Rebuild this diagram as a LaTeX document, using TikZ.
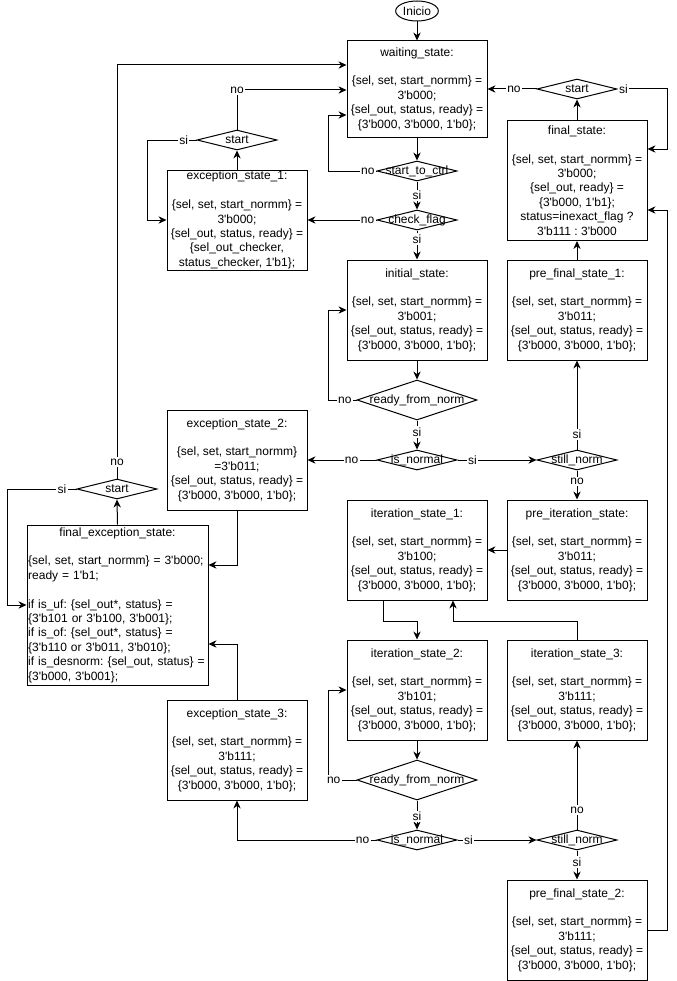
\documentclass[tikz,border=0pt]{standalone}
\usepackage{fontspec}
\setmainfont{Liberation Sans}[Ligatures=TeXOff]
\usepackage{tikz}
\usetikzlibrary{positioning,shapes.geometric,arrows.meta}
\frenchspacing

% texto comun de casi todos los estados
\newcommand{\estado}[2]{#1:\\[10.8pt]\{sel, set, start\_normm\} =\\#2;\\\{sel\_out, status, ready\} =\\\{3'b000, 3'b000, 1'b0\};}

\begin{document}
\begin{tikzpicture}[
        x=0.75pt, y=-0.75pt,
        font=\fontsize{9}{10.8}\selectfont,
        % Estilo para los estados (cajas)
        statebox/.style={
            rectangle,
            draw=black,
            line width=0.75pt,
            minimum width=105pt,
            minimum height=75pt,
            align=center,
            inner xsep=2pt,
            inner ysep=0pt
        },
        % Estilo para las decisiones (rombos)
        decision/.style={
            diamond,
            draw=black,
            line width=0.75pt,
            minimum width=60pt,
            minimum height=15pt,
            inner sep=0pt
        },
        % Estilo para las flechas
        flow/.style={
            draw=black,
            line width=0.75pt,
            -{Stealth[length=6pt, width=5.5pt]}
        },
        % Etiquetas si / no sobre las flechas
        lab/.style={
            fill=white,
            inner sep=1pt
        }
    ]

        \useasboundingbox (0,0) rectangle (677,981);

        % --- 1. INICIO Y ESTADO DE ESPERA ---
        \node[ellipse, draw=black, line width=0.75pt, minimum width=32pt, minimum height=15pt, inner sep=0pt] (inicio) at (417,11) {Inicio};
        \node[statebox, minimum height=72pt] (waiting) at (417,89) {\estado{waiting\_state}{3'b000}};

        % Decisiones de arranque
        \node[decision, label=center:start\_to\_ctrl] (stc) at (417,171) {};
        \node[decision, label=center:check\_flag] (chk) at (417,220) {};

        % --- 2. COLUMNA CENTRAL ---
        \node[statebox] (init) at (417,310) {\estado{initial\_state}{3'b001}};
        \node[decision, minimum width=90pt, minimum height=30pt, label=center:ready\_from\_norm] (rfn1) at (417,400) {};
        \node[decision, label=center:is\_normal] (isn1) at (417,460) {};

        \node[statebox] (it1) at (417,550) {\estado{iteration\_state\_1}{3'b100}};
        \node[statebox] (it2) at (417,690) {\estado{iteration\_state\_2}{3'b101}};
        \node[decision, minimum width=90pt, minimum height=30pt, label=center:ready\_from\_norm] (rfn2) at (417,780) {};
        \node[decision, label=center:is\_normal] (isn2) at (417,840) {};

        % --- 3. COLUMNA DERECHA ---
        \node[decision, label=center:start] (st3) at (577,89) {};
        \node[statebox, minimum height=90pt] (fin) at (577,180.5) {final\_state:\\[10.8pt]\{sel, set, start\_normm\} =\\3'b000;\\\{sel\_out, ready\} =\\\{3'b000, 1'b1\};\\status=inexact\_flag ?\\3'b111 : 3'b000};
        \node[statebox] (pfs1) at (577,310) {\estado{pre\_final\_state\_1}{3'b011}};
        \node[decision, label=center:still\_norm] (stn1) at (577,460) {};
        \node[statebox] (pis) at (577,550) {\estado{pre\_iteration\_state}{3'b011}};
        \node[statebox] (it3) at (577,690) {\estado{iteration\_state\_3}{3'b111}};
        \node[decision, label=center:still\_norm] (stn2) at (577,840) {};
        \node[statebox] (pfs2) at (577,930) {\estado{pre\_final\_state\_2}{3'b111}};

        % --- 4. COLUMNA DE EXCEPCIONES ---
        \node[decision, label=center:start] (st1) at (237,140) {};
        \node[statebox] (exc1) at (237,220) {exception\_state\_1:\\[10.8pt]\{sel, set, start\_normm\} =\\3'b000;\\\{sel\_out, status, ready\} =\\\{sel\_out\_checker,\\status\_checker, 1'b1\};};
        \node[statebox] (exc2) at (237,460) {exception\_state\_2:\\[10.8pt]\{sel, set, start\_normm\}\\=3'b011;\\\{sel\_out, status, ready\} =\\\{3'b000, 3'b000, 1'b0\};};
        \node[statebox] (exc3) at (237,750) {\estado{exception\_state\_3}{3'b111}};

        \node[decision, label=center:start] (st2) at (117,489) {};
        \node[statebox, minimum width=135.75pt, minimum height=120pt, text width=134pt, align=left, inner xsep=0.5pt] (fes) at (117.5,605) {\makebox[134pt]{final\_exception\_state:}\\[10.8pt]
            \{sel, set, start\_normm\} = 3'b000;\\ready = 1'b1;\\[10.8pt]
            if is\_uf: \{sel\_out*, status\} =\\\{3'b101 or 3'b100, 3'b001\};\\
            if is\_of: \{sel\_out*, status\} =\\\{3'b110 or 3'b011, 3'b010\};\\
            if is\_desnorm: \{sel\_out, status\} =\\\{3'b000, 3'b001\};};

        % --- 5. FLECHAS ---
        \draw[flow] (inicio) -- (waiting);
        \draw[flow] (waiting) -- (stc);
        \draw[flow] (stc.west) -- node[lab, pos=0.18] {no} (328,171) |- (waiting.west |- 0,115);
        \draw[flow] (stc.south) -- node[lab] {si} (chk.north);
        \draw[flow] (chk.west) -- node[lab, pos=0.13] {no} (exc1.east);
        \draw[flow] (chk.south) -- node[lab, pos=0.3] {si} (init.north);

        \draw[flow] (exc1) -- (st1);
        \draw[flow] (st1.west) -- node[lab, pos=0.26] {si} (147,140) |- (exc1.west);
        \draw[flow] (st1.north) |- node[lab, pos=0.5] {no} (waiting.west |- 0,90);

        \draw[flow] (init) -- (rfn1);
        \draw[flow] (rfn1.west) -- node[lab, pos=0.41] {no} (328,400) |- (init.west);
        \draw[flow] (rfn1.south) -- node[lab, pos=0.4] {si} (isn1.north);
        \draw[flow] (isn1.west) -- node[lab, pos=0.36] {no} (exc2.east);
        \draw[flow] (isn1.east) -- node[lab, pos=0.19] {si} (stn1.west);
        \draw[flow] (stn1.north) -- node[lab, pos=0.17] {si} (pfs1.south);
        \draw[flow] (stn1.south) -- node[lab, pos=0.37] {no} (pis.north);

        \draw[flow] (pfs1) -- (fin);
        \draw[flow] (fin) -- (st3);
        \draw[flow] (st3.west) -- node[lab, pos=0.46] {no} (waiting.east |- st3);
        \draw[flow] (st3.east) -- node[lab, pos=0.12] {si} (667,89) |- (fin.east |- 0,149);
        \draw[flow] (pfs2.east) -| (667,210) -- (fin.east |- 0,210);

        \draw[flow] (exc2.south) |- (fes.east |- 0,565);
        \draw[flow] (exc3.north) |- (fes.east |- 0,644);
        \draw[flow] (fes.north) -- (st2.south);
        \draw[flow] (st2.west) -- node[lab, pos=0.21] {si} (7,489) |- (fes.west);
        \draw[flow] (st2.north) |- node[lab, pos=0.02] {no} (waiting.west |- 0,65);

        \draw[flow] (pis) -- (it1);
        \draw[flow] (it1.south -| 383,0) -- (383,621) -| (it2.north);
        \draw[flow] (it3.north) |- (453,621) -- (it1.south -| 453,0);
        \draw[flow] (it2) -- (rfn2);
        \draw[flow] (rfn2.west) -- node[lab, pos=0.8] {no} (328,780) |- (it2.west);
        \draw[flow] (rfn2.south) -- node[lab, pos=0.55] {si} (isn2.north);
        \draw[flow] (isn2.west) -| node[lab, pos=0.05] {no} (exc3.south);
        \draw[flow] (isn2.east) -- node[lab, pos=0.14] {si} (stn2.west);
        \draw[flow] (stn2.north) -- node[lab, pos=0.22] {no} (it3.south);
        \draw[flow] (stn2.south) -- node[lab, pos=0.4] {si} (pfs2.north);

    \end{tikzpicture}
\end{document}
